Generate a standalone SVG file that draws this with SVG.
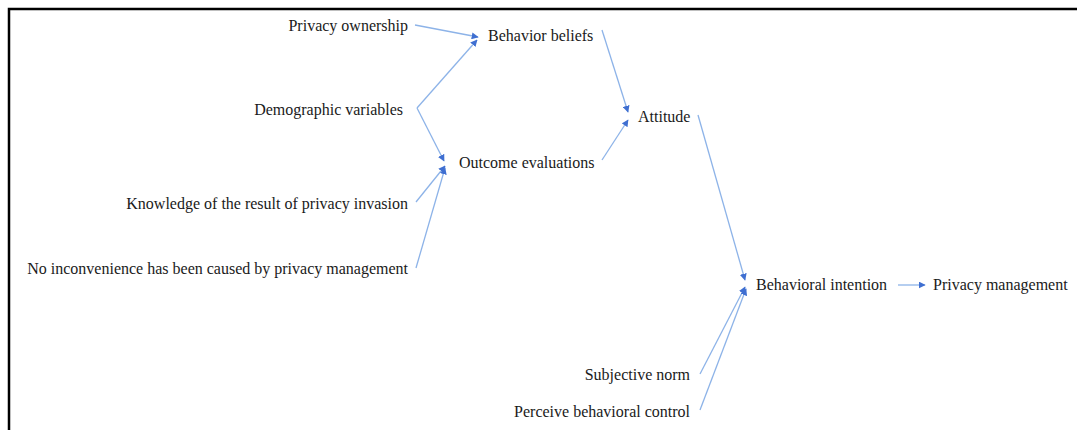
<svg xmlns="http://www.w3.org/2000/svg" width="1077" height="430" viewBox="0 0 1077 430">
  <defs>
    <style>
      text { font-family: 'Liberation Serif', 'DejaVu Serif', 'Times New Roman', serif; font-size: 16px; fill: #1a1a1a; }
      .end { text-anchor: end; }
      .edge { stroke: #8db3e8; stroke-width: 1.3; fill: none; marker-end: url(#arr); }
      .frame { stroke: #000; stroke-width: 2.5; fill: none; }
    </style>
    <marker id="arr" viewBox="0 0 10 10" refX="9" refY="5" markerWidth="7" markerHeight="7" markerUnits="userSpaceOnUse" orient="auto">
      <path d="M0,0 L10,5 L0,10 z" fill="#3f6fd1"/>
    </marker>
  </defs>
  <rect width="1077" height="430" fill="#fff"/>
  <path class="frame" d="M9,430 V9 H1077"/>

  <g id="connectors">
    <line class="edge" x1="415" y1="25" x2="478" y2="37"/>
    <line class="edge" x1="417" y1="108" x2="477" y2="40"/>
    <line class="edge" x1="417" y1="108" x2="444" y2="161"/>
    <line class="edge" x1="416" y1="202" x2="445" y2="166"/>
    <line class="edge" x1="416" y1="268" x2="445" y2="168"/>
    <line class="edge" x1="602" y1="30" x2="628" y2="112"/>
    <line class="edge" x1="602" y1="160" x2="628" y2="120"/>
    <line class="edge" x1="698" y1="115" x2="745" y2="280"/>
    <line class="edge" x1="700" y1="374" x2="745" y2="287"/>
    <line class="edge" x1="700" y1="410" x2="746" y2="289"/>
    <line class="edge" x1="898" y1="285" x2="925" y2="285"/>
  </g>

  <g font-family="Liberation Serif, DejaVu Serif, serif" font-size="16">
    <g id="privacy-ownership"><text class="end" x="408" y="31">Privacy ownership</text></g>
    <g id="demographic-variables"><text class="end" x="403" y="115">Demographic variables</text></g>
    <g id="knowledge"><text class="end" x="408" y="209">Knowledge of  the result of privacy invasion</text></g>
    <g id="no-inconvenience"><text class="end" x="408" y="274">No inconvenience has been caused by privacy management</text></g>
    <g id="behavior-beliefs"><text x="488" y="41">Behavior beliefs</text></g>
    <g id="outcome-evaluations"><text x="459" y="168">Outcome evaluations</text></g>
    <g id="attitude"><text x="638" y="122">Attitude</text></g>
    <g id="behavioral-intention"><text x="756" y="290">Behavioral intention</text></g>
    <g id="privacy-management"><text x="933" y="290">Privacy management</text></g>
    <g id="subjective-norm"><text class="end" x="690" y="380">Subjective norm</text></g>
    <g id="perceived-control"><text class="end" x="690" y="417">Perceive behavioral control</text></g>
  </g>
</svg>
